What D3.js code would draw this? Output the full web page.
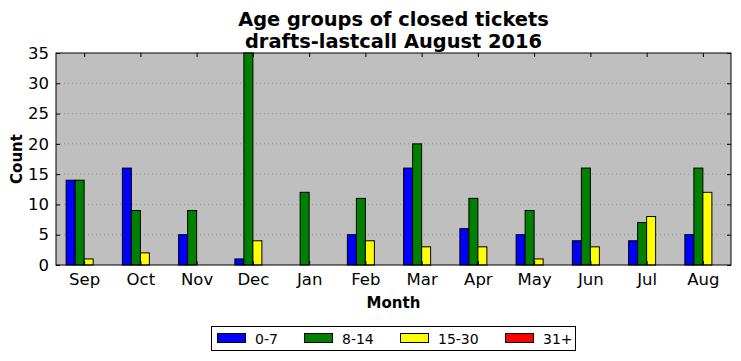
<!DOCTYPE html>
<html>
<head>
<meta charset="utf-8">
<script src="https://cdn.jsdelivr.net/npm/d3@7"></script>
<style>
  body { margin: 0; background: #fff; }
  text { font-family: "DejaVu Sans", sans-serif; }
</style>
</head>
<body>
<svg width="741" height="361"></svg>
<script>
// data
const months = ["Sep", "Oct", "Nov", "Dec", "Jan", "Feb", "Mar", "Apr", "May", "Jun", "Jul", "Aug"];
const groups = ["0-7", "8-14", "15-30", "31+"];
const colors = ["#0000ff", "#008000", "#ffff00", "#ff0000"];
const age0to7 = [14, 16, 5, 1, 0, 5, 16, 6, 5, 4, 4, 5];
const age8to14 = [14, 9, 9, 35, 12, 11, 20, 11, 9, 16, 7, 16];
const age15to30 = [1, 2, 0, 4, 0, 4, 3, 3, 1, 3, 8, 12];
const age31plus = [0, 0, 0, 0, 0, 0, 0, 0, 0, 0, 0, 0];
const yTicks = [0, 5, 10, 15, 20, 25, 30, 35];

const series = [age0to7, age8to14, age15to30, age31plus];

const pLeft = 56, pRight = 731, pTop = 53, pBottom = 265;
const svg = d3.select("svg");

const x = d3.scaleLinear().domain([-0.5, months.length - 0.5]).range([pLeft, pRight]);
const y = d3.scaleLinear().domain([0, 35]).range([pBottom, pTop]);
const barW = 0.16;

svg.append("rect")
  .attr("x", pLeft).attr("y", pTop)
  .attr("width", pRight - pLeft).attr("height", pBottom - pTop)
  .attr("fill", "#bfbfbf");

// grid
svg.append("g").selectAll("line")
  .data(yTicks.slice(1, -1))
  .enter().append("line")
    .attr("x1", pLeft).attr("x2", pRight)
    .attr("y1", d => y(d)).attr("y2", d => y(d))
    .attr("stroke", "#888").attr("stroke-width", 0.8)
    .attr("stroke-dasharray", "1,3");

// bars
series.forEach((vals, k) => {
  svg.append("g").selectAll("rect")
    .data(vals)
    .enter().append("rect")
      .attr("x", (d, i) => x(i - 2 * barW + k * barW))
      .attr("y", d => y(d))
      .attr("width", x(barW) - x(0))
      .attr("height", d => y(0) - y(d))
      .attr("fill", colors[k])
      .attr("stroke", "#000")
      .attr("stroke-width", 1);
});

// frame
svg.append("rect")
  .attr("x", pLeft).attr("y", pTop)
  .attr("width", pRight - pLeft).attr("height", pBottom - pTop)
  .attr("fill", "none").attr("stroke", "#000").attr("stroke-width", 1);

// axes
const xAxis = d3.axisBottom(x).tickValues(d3.range(months.length))
  .tickFormat(i => months[i]).tickSizeInner(-4).tickSizeOuter(0).tickPadding(8);
const gx = svg.append("g").attr("transform", `translate(0,${pBottom})`).call(xAxis);
const xTop = d3.axisTop(x).tickValues(d3.range(months.length))
  .tickFormat("").tickSizeInner(-4).tickSizeOuter(0);
const gxt = svg.append("g").attr("transform", `translate(0,${pTop})`).call(xTop);

const yAxis = d3.axisLeft(y).tickValues(yTicks).tickSizeInner(-4).tickSizeOuter(0).tickPadding(7);
const gy = svg.append("g").attr("transform", `translate(${pLeft},0)`).call(yAxis);
const yRight = d3.axisRight(y).tickValues(yTicks).tickFormat("").tickSizeInner(-4).tickSizeOuter(0);
const gyr = svg.append("g").attr("transform", `translate(${pRight},0)`).call(yRight);

[gx, gxt, gy, gyr].forEach(g => {
  g.select(".domain").remove();
  g.selectAll("text").attr("font-size", 16.5).attr("font-family", "DejaVu Sans, sans-serif").attr("fill", "#000");
  g.selectAll("line").attr("stroke", "#000");
});

// titles
svg.append("text").attr("x", (pLeft + pRight) / 2).attr("y", 26)
  .attr("text-anchor", "middle").attr("font-size", 19.4).attr("font-weight", "bold")
  .text("Age groups of closed tickets");
svg.append("text").attr("x", (pLeft + pRight) / 2).attr("y", 48)
  .attr("text-anchor", "middle").attr("font-size", 19.4).attr("font-weight", "bold")
  .text("drafts-lastcall August 2016");
svg.append("text").attr("x", (pLeft + pRight) / 2).attr("y", 308)
  .attr("text-anchor", "middle").attr("font-size", 15).attr("font-weight", "bold")
  .text("Month");
svg.append("text")
  .attr("transform", `translate(22,${(pTop + pBottom) / 2}) rotate(-90)`)
  .attr("text-anchor", "middle").attr("font-size", 15).attr("font-weight", "bold")
  .text("Count");

// legend
const lg = svg.append("g");
lg.append("rect").attr("x", 211.5).attr("y", 326.5).attr("width", 364).attr("height", 24)
  .attr("fill", "#fff").attr("stroke", "#000");
const legX = [217, 304, 400, 505];
groups.forEach((g, k) => {
  lg.append("rect").attr("x", legX[k] + 0.5).attr("y", 333.5).attr("width", 28).attr("height", 9)
    .attr("fill", colors[k]).attr("stroke", "#000");
  lg.append("text").attr("x", legX[k] + 38).attr("y", 343.5)
    .attr("font-size", 14).text(g);
});
</script>
</body>
</html>
